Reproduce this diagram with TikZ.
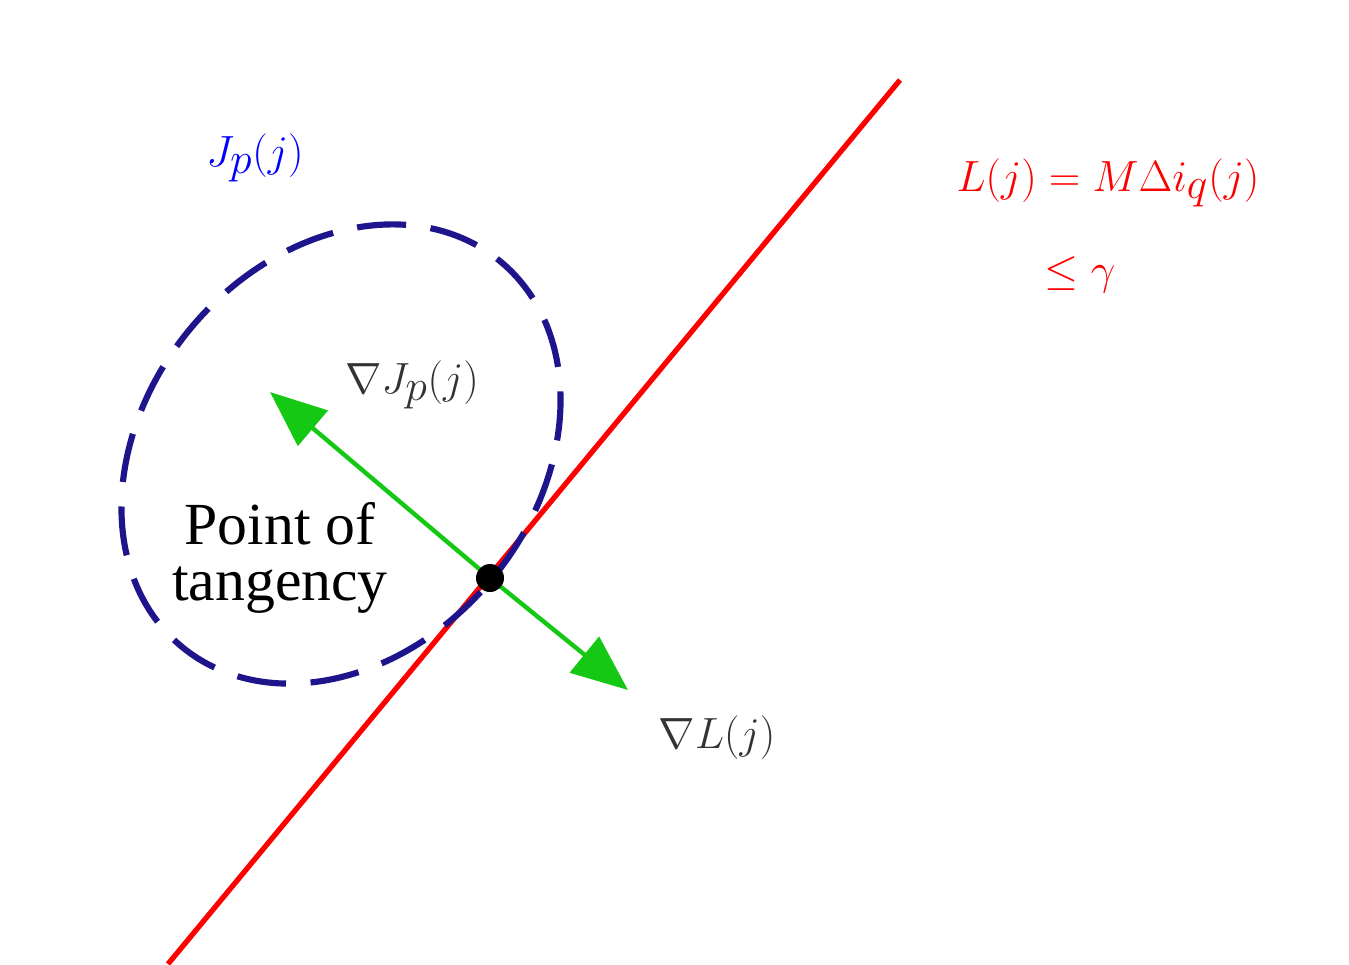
\documentclass[tikz,border=0pt]{standalone}
\usepackage{fontspec}
\setmainfont{Liberation Serif}
\usetikzlibrary{arrows.meta}
\definecolor{navy}{RGB}{30,20,140}
\definecolor{gr}{RGB}{20,200,20}
\begin{document}
\begin{tikzpicture}[x=0.02cm,y=-0.02cm,
 lbl/.style={font=\fontsize{34}{40}\selectfont},
 arr/.style={gr,line width=2.5pt,-{Triangle[length=32pt,width=26pt]}}]
\useasboundingbox (0,0) rectangle (1349,964);
\coordinate (lA) at (168,964);
\coordinate (lB) at (900,80);
\draw[red,line width=3pt] (lA) -- (lB);
\draw[navy,line width=3.5pt,dash pattern=on 28pt off 14pt] (341,454) ellipse [x radius=250, y radius=196, rotate=50.4];
\coordinate (t) at (490,578);
\coordinate (g1) at (270,392);
\coordinate (g2) at (628,690);
\draw[arr] (t) -- (g1);
\draw[arr] (t) -- (g2);
\fill (t) circle (14);
\node[lbl,blue] (jp) at (255,158) {$J_p(j)$};
\node[lbl,red] (L) at (1108,183) {$L(j)=M\Delta i_q(j)$};
\node[lbl,red] (g) at (1080,275) {$\le\gamma$};
\node[lbl,black!80] (dj) at (412,385) {$\nabla J_p(j)$};
\node[lbl,black!80] (dl) at (717,738) {$\nabla L(j)$};
\node[lbl,align=center] (pt) at (280,558) {Point of\\[-8pt]tangency};
\end{tikzpicture}
\end{document}
